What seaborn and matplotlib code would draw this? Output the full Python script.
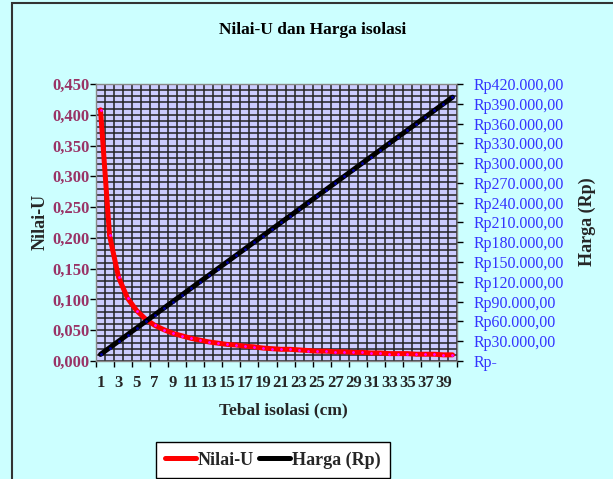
import numpy as np
import pandas as pd
import matplotlib
matplotlib.use("Agg")
import matplotlib.pyplot as plt
import seaborn as sns
from matplotlib.ticker import MultipleLocator, FixedLocator
from matplotlib.patches import Rectangle
from matplotlib.lines import Line2D

# ---- data ----
tebal = list(range(1, 41))
nilai_u = [0.408, 0.204, 0.136, 0.102, 0.082, 0.068, 0.058, 0.051, 0.045, 0.041,
           0.037, 0.034, 0.031, 0.029, 0.027, 0.026, 0.024, 0.023, 0.021, 0.020,
           0.019, 0.019, 0.018, 0.017, 0.016, 0.016, 0.015, 0.015, 0.014, 0.014,
           0.013, 0.013, 0.012, 0.012, 0.012, 0.011, 0.011, 0.011, 0.010, 0.010]
harga = [10000, 20000, 30000, 40000, 50000, 60000, 70000, 80000, 90000, 100000,
         110000, 120000, 130000, 140000, 150000, 160000, 170000, 180000, 190000, 200000,
         210000, 220000, 230000, 240000, 250000, 260000, 270000, 280000, 290000, 300000,
         310000, 320000, 330000, 340000, 350000, 360000, 370000, 380000, 390000, 400000]
x_tick_labels = [str(v) for v in range(1, 41, 2)]
u_tick_values = [0.0, 0.05, 0.10, 0.15, 0.20, 0.25, 0.30, 0.35, 0.40, 0.45]
u_tick_labels = ["0,000", "0,050", "0,100", "0,150", "0,200", "0,250", "0,300", "0,350", "0,400", "0,450"]
rp_tick_values = list(range(0, 420001, 30000))
rp_tick_labels = ["Rp-"] + ["Rp{}.000,00".format(v // 1000) for v in rp_tick_values[1:]]

df = pd.DataFrame({"tebal": tebal, "nilai_u": nilai_u, "harga": harga})

sns.set_theme(style="white")
plt.rcParams["font.family"] = ["Liberation Serif", "DejaVu Serif"]

W, H = 613, 479
fig = plt.figure(figsize=(W / 100, H / 100), dpi=100)
bg = "#ccffff"
fig.patch.set_facecolor(bg)

# outer frame
fig.patches.append(Rectangle((12 / W, -0.05), 1.1, 1 - 3 / H + 0.05, transform=fig.transFigure,
                             fill=False, edgecolor="#333333", lw=1.5, zorder=0))

left, right, top, bottom = 96, 457, 84, 361
ax = fig.add_axes([left / W, 1 - bottom / H, (right - left) / W, (bottom - top) / H])
ax.set_facecolor("#ccccff")
ax2 = ax.twinx()

sns.lineplot(data=df, x="tebal", y="nilai_u", ax=ax, color="#ff0000", lw=3.6,
             marker="o", markersize=2, markerfacecolor="#ff00ff", markeredgewidth=0,
             zorder=5)
sns.lineplot(data=df, x="tebal", y="harga", ax=ax2, color="#000000", lw=3.6,
             marker="o", markersize=2, markerfacecolor="#0000aa", markeredgewidth=0,
             zorder=5)

ax.set_xlim(0.5, 40.5)
ax.set_ylim(0, 0.45)
ax2.set_ylim(0, 420000)

# x ticks: labels at odd categories, grid at category boundaries
ax.xaxis.set_major_locator(FixedLocator(list(range(1, 41, 2))))
ax.set_xticklabels(x_tick_labels)
ax.xaxis.set_minor_locator(MultipleLocator(1, offset=0.5))
ax.tick_params(axis="x", which="both", length=0, pad=10, labelsize=12)
for lab in ax.get_xticklabels():
    lab.set_fontweight("bold")
sec = ax.secondary_xaxis("bottom")
sec.set_xticks([v + 0.5 for v in range(0, 41, 2)])
sec.set_xticklabels([])
sec.tick_params(length=4, width=1, color="black", direction="out")
sec.spines["bottom"].set_visible(False)

# y ticks
ax.set_yticks(u_tick_values)
ax.set_yticklabels(u_tick_labels)
ax.yaxis.set_minor_locator(MultipleLocator(0.01))
ax.tick_params(axis="y", which="major", length=4, width=1, color="black", direction="out",
               pad=0.5, labelsize=12, labelcolor="#993366")
ax.tick_params(axis="y", which="minor", length=0)
for lab in ax.get_yticklabels():
    lab.set_fontweight("bold")

ax2.set_yticks(rp_tick_values)
ax2.set_yticklabels(rp_tick_labels)
ax2.tick_params(axis="y", length=4, width=1, color="black", direction="out", pad=8,
                labelsize=11.5, labelcolor="#3333ff")

ax.grid(which="both", axis="both", color="#222222", lw=1.1)
ax.xaxis.grid(which="major", visible=False)
ax.xaxis.grid(which="minor", visible=True, color="#222222", lw=1.1)
ax.set_axisbelow(True)

for sp in ax.spines.values():
    sp.set_color("#888888")
    sp.set_linewidth(1)
for sp in ax2.spines.values():
    sp.set_visible(False)

ax.set_xlabel("")
ax.set_ylabel("")
ax2.set_ylabel("")

fig.text(313 / W, 1 - 30 / H, "Nilai-U dan Harga isolasi", ha="center", va="center",
         fontsize=12.5, fontweight="bold", color="#000000")
fig.text(40 / W, 1 - 222 / H, "Nilai-U", ha="center", va="center", rotation=90,
         fontsize=13, fontweight="bold")
fig.text(587 / W, 1 - 222 / H, "Harga (Rp)", ha="center", va="center", rotation=90,
         fontsize=13, fontweight="bold")
fig.text(283 / W, 1 - 410 / H, "Tebal isolasi (cm)", ha="center", va="center",
         fontsize=12.5, fontweight="bold")

handles = [Line2D([], [], color="#ff0000", lw=3.6),
           Line2D([], [], color="#000000", lw=3.6)]
leg = fig.legend(handles, ["Nilai-U", "Harga (Rp)"], loc="center",
                 bbox_to_anchor=(273 / W, 1 - 460 / H), ncol=2, frameon=True,
                 fancybox=False, edgecolor="#000000", facecolor="white", framealpha=1,
                 prop={"weight": "bold", "size": 13}, handlelength=1.7,
                 handletextpad=0.1, columnspacing=0.3, borderpad=0.5, borderaxespad=0)
leg.get_frame().set_linewidth(1.0)

fig.savefig("out.png", dpi=100, facecolor=bg)
